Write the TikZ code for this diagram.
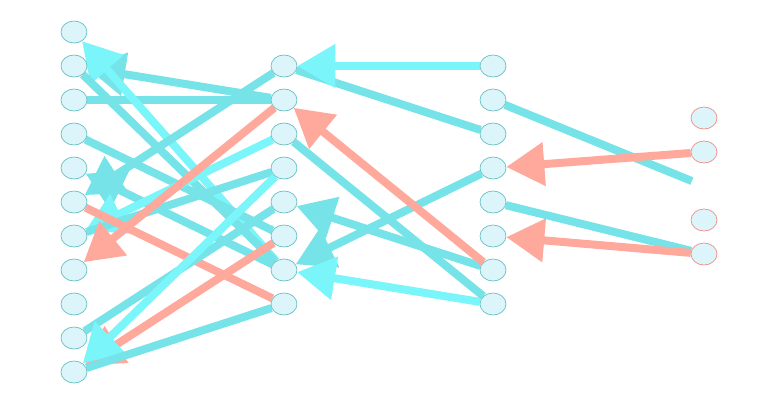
\documentclass[tikz,border=0pt]{standalone}
\usepackage{tikz}
\usetikzlibrary{shapes,arrows.meta,backgrounds}
\definecolor{cyanA}{rgb}{0.48,0.96,0.98}
\definecolor{cyanB}{rgb}{0.46,0.89,0.91}
\definecolor{salm}{rgb}{1.0,0.66,0.61}
\definecolor{ringc}{rgb}{0.40,0.75,0.76}
\definecolor{ringr}{rgb}{0.95,0.55,0.52}
\definecolor{fillc}{rgb}{0.86,0.96,0.98}
\tikzset{
  unit/.style={draw=ringc,fill=fillc,ellipse,minimum width=26bp,minimum height=22bp,inner sep=0pt,line width=0.7bp},
  outu/.style={unit,draw=ringr},
  link/.style={line width=8bp,-{Triangle[length=38bp,width=42bp]}},
  seg/.style={line width=8bp},
}
\begin{document}
\begin{tikzpicture}[>=latex,line join=bevel,x=1bp,y=-1bp]
%%
\useasboundingbox (0,0) rectangle (768,402);
  \node (a1) at (74,32) [unit] {};
  \node (a2) at (74,66) [unit] {};
  \node (a3) at (74,100) [unit] {};
  \node (a4) at (74,134) [unit] {};
  \node (a5) at (74,168) [unit] {};
  \node (a6) at (74,202) [unit] {};
  \node (a7) at (74,236) [unit] {};
  \node (a8) at (74,270) [unit] {};
  \node (a9) at (74,304) [unit] {};
  \node (a10) at (74,338) [unit] {};
  \node (a11) at (74,372) [unit] {};
  \node (b1) at (284,66) [unit] {};
  \node (b2) at (284,100) [unit] {};
  \node (b3) at (284,134) [unit] {};
  \node (b4) at (284,168) [unit] {};
  \node (b5) at (284,202) [unit] {};
  \node (b6) at (284,236) [unit] {};
  \node (b7) at (284,270) [unit] {};
  \node (b8) at (284,304) [unit] {};
  \node (c1) at (493,66) [unit] {};
  \node (c2) at (493,100) [unit] {};
  \node (c3) at (493,134) [unit] {};
  \node (c4) at (493,168) [unit] {};
  \node (c5) at (493,202) [unit] {};
  \node (c6) at (493,236) [unit] {};
  \node (c7) at (493,270) [unit] {};
  \node (c8) at (493,304) [unit] {};
  \node (d1) at (704,118) [outu] {};
  \node (d2) at (704,152) [outu] {};
  \node (d3) at (704,186) [unit,draw=white,fill=white] {};
  \node (d4) at (704,220) [outu] {};
  \node (d5) at (704,254) [outu] {};
\begin{scope}[on background layer]
  \draw [cyanB,seg] (c2) -- (d3);
  \draw [cyanB,seg] (c5) -- (d5);
  \draw [salm,link] (d2) -- (c4);
  \draw [salm,link] (d5) -- (c6);
  \draw [cyanB,seg] (c3) -- (b1);
  \draw [cyanA,link] (c1) -- (b1);
  \draw [cyanB,link] (c4) -- (b7);
  \draw [cyanA,link] (c8) -- (b7);
  \draw [cyanB,link] (c7) -- (b5);
  \draw [cyanB,seg] (c8) -- (b3);
  \draw [salm,link] (c7) -- (b2);
  \draw [cyanB,seg] (a3) -- (b2);
  \draw [cyanB,link] (b2) -- (a2);
  \draw [cyanA,link] (b7) -- (a1);
  \draw [cyanB,seg] (a2) -- (b7);
  \draw [cyanB,seg] (a4) -- (b6);
  \draw [cyanB,link] (b1) -- (a6);
  \draw [cyanB,link] (b7) -- (a5);
  \draw [cyanA,link] (b3) -- (a7);
  \draw [cyanB,seg] (b4) -- (a7);
  \draw [salm,seg] (a6) -- (b8);
  \draw [salm,link] (b2) -- (a8);
  \draw [cyanB,seg] (b5) -- (a10);
  \draw [salm,link] (b6) -- (a11);
  \draw [cyanA,link] (b4) -- (a11);
  \draw [cyanB,seg] (b8) -- (a11);
\end{scope}
%
\end{tikzpicture}
\end{document}
